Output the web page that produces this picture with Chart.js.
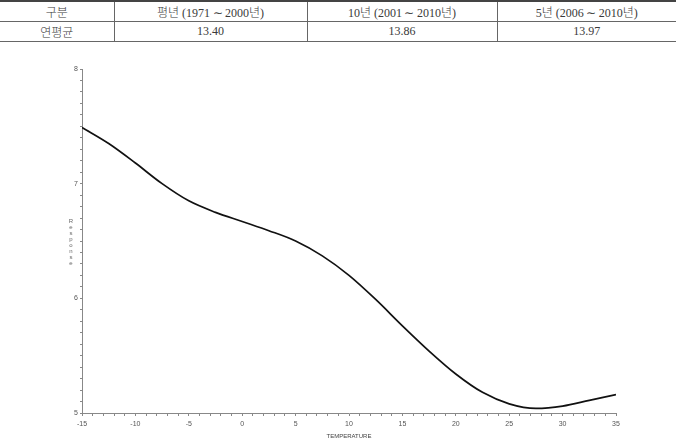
<!DOCTYPE html>
<html>
<head>
<meta charset="utf-8">
<script src="https://cdn.jsdelivr.net/npm/chart.js@4"></script>
<style>
  body { margin: 0; background: #fff; width: 676px; height: 447px; overflow: hidden; position: relative; }
  table { position: absolute; top: 0; left: 0; width: 676px; border-collapse: collapse; table-layout: fixed;
          font-family: "Liberation Serif", "Noto Sans CJK KR", serif; font-size: 12px; color: #3a3a3a; font-weight: 300; }
  table tr:first-child td { border-top: 2px solid #444; }
  td { height: 19px; padding: 0; text-align: center; border-bottom: 1px solid #666; border-left: 1px solid #666; }
  td:first-child { border-left: none; }
  #wrap { position: absolute; left: 0; top: 50px; width: 676px; height: 397px; }
</style>
</head>
<body>
<table>
  <colgroup><col style="width:114px"><col style="width:193px"><col style="width:190px"><col style="width:179px"></colgroup>
  <tr><td>구분</td><td>평년 (1971&thinsp;∼&thinsp;2000년)</td><td>10년 (2001&thinsp;∼&thinsp;2010년)</td><td>5년 (2006&thinsp;∼&thinsp;2010년)</td></tr>
  <tr><td>연평균</td><td>13.40</td><td>13.86</td><td>13.97</td></tr>
</table>
<div id="wrap"><canvas id="grafico"></canvas></div>
<script>
const temperatura = [-15, -12.5, -10, -7.5, -5, -2.5, 0, 2.5, 5, 7.5, 10, 12.5, 15, 17.5, 20, 22.5, 25, 27.5, 30, 32.5, 35]
const respuesta = [7.49, 7.35, 7.18, 7.00, 6.85, 6.75, 6.67, 6.59, 6.50, 6.37, 6.20, 5.99, 5.76, 5.54, 5.34, 5.18, 5.08, 5.04, 5.06, 5.11, 5.16]
const tituloY = 'Response'
const tituloX = 'TEMPERATURE'

const colorEje = '#888'
const fuente = { family: 'Liberation Sans', size: 7 }

// letras apiladas del titulo Y
const letrasY = {
    id: 'letrasY',
    afterDraw(chart) {
        const ctx = chart.ctx
        ctx.save()
        ctx.font = '6px "Liberation Sans"'
        ctx.fillStyle = '#666'
        ctx.textAlign = 'center'
        ctx.textBaseline = 'middle'
        tituloY.split('').forEach((l, i) => ctx.fillText(l, 71, 171 + i * 6))
        ctx.restore()
    }
}

const esEntero = v => Math.abs(v - Math.round(v)) < 1e-6

new Chart(document.querySelector('#grafico'), {
    type: 'line',
    data: {
        labels: temperatura,
        datasets: [{
            data: temperatura.map((t, i) => ({ x: t, y: respuesta[i] })),
            borderColor: '#111',
            borderWidth: 1.7,
            pointRadius: 0,
            cubicInterpolationMode: 'monotone',
            fill: false
        }]
    },
    options: {
        responsive: true,
        maintainAspectRatio: false,
        animation: false,
        layout: { padding: { top: 19, right: 60, left: 0, bottom: 0 } },
        plugins: { legend: { display: false }, tooltip: { enabled: false } },
        scales: {
            x: {
                type: 'linear',
                min: -15, max: 35,
                afterFit: s => { s.height = 34 },
                grid: { drawOnChartArea: false, color: colorEje, tickLength: 3 },
                border: { color: colorEje },
                ticks: {
                    stepSize: 1, autoSkip: false, maxRotation: 0, padding: 4,
                    color: '#555', font: fuente,
                    callback: v => (esEntero(v) && Math.round(v) % 5 === 0) ? Math.round(v) : ''
                },
                title: { display: true, text: tituloX, color: '#444', font: { family: 'Liberation Sans', size: 6 }, padding: { top: 0, bottom: 7 } }
            },
            y: {
                min: 5, max: 8,
                afterFit: s => { s.width = 82 },
                grid: { drawOnChartArea: false, color: colorEje, tickLength: 2 },
                border: { color: colorEje },
                ticks: {
                    stepSize: 0.1, autoSkip: false, padding: 2,
                    color: '#555', font: fuente,
                    callback: v => esEntero(v) ? Math.round(v) : ''
                }
            }
        }
    },
    plugins: [letrasY]
})
</script>
</body>
</html>
